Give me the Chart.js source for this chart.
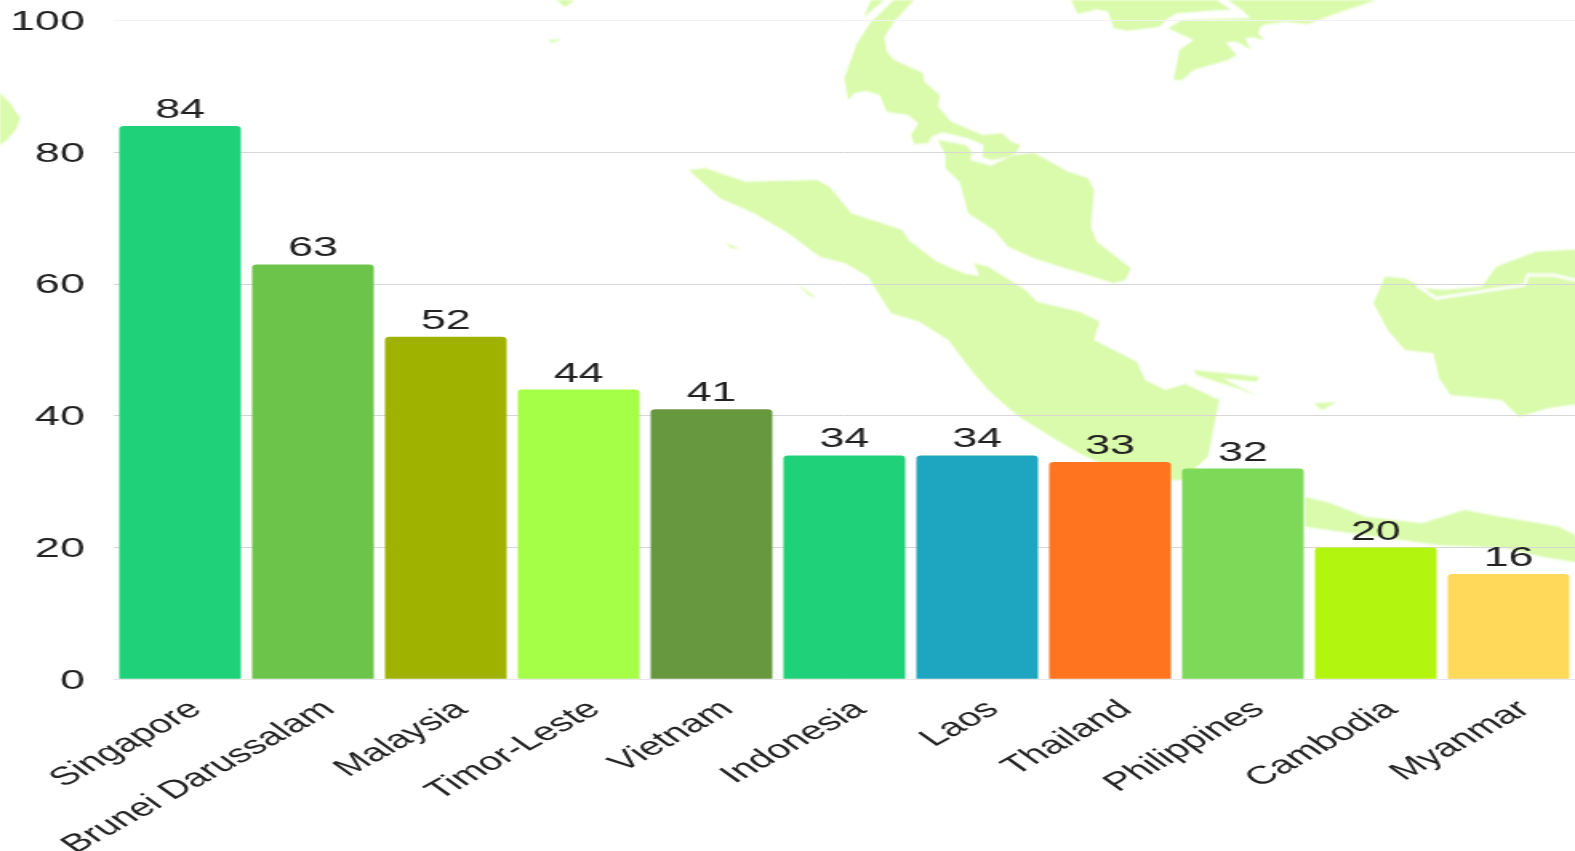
<!DOCTYPE html>
<html>
<head>
<meta charset="utf-8">
<title>ASEAN</title>
<script src="https://cdn.jsdelivr.net/npm/chart.js@4"></script>
<style>
  html, body { margin: 0; padding: 0; background: #fff; overflow: hidden; }
  #wrap { position: relative; width: 1575px; height: 851px; }
  #map { position: absolute; left: 0; top: 0; }
  /* the source picture is stretched sideways, so the canvas is too */
  #chart { position: absolute; left: 0; top: 0; width: 1575px !important; height: 851px !important; }
</style>
</head>
<body>
<div id="wrap">
  <svg id="map" width="1575" height="851" viewBox="0 0 1575 851">
    <defs><filter id="soft"><feGaussianBlur stdDeviation="1.1"/></filter></defs>
    <g fill="#d9fbab" filter="url(#soft)">
      <!-- upper half of the map -->
      <g transform="translate(680,0) scale(0.5708,0.3333)">
        <path d="M335,0 L358,0 L322,50 Z"/>
        <path d="M375,0 L410,0 L375,65 L358,110 L362,155 L375,180 L425,218 L428,245 L455,285 L452,320 L475,365 L530,405 L565,400 L580,425 L597,435 L590,455 L575,472 L545,480 L530,470 L532,435 L505,415 L460,397 L440,410 L435,430 L410,432 L405,405 L418,370 L400,345 L362,335 L350,285 L325,272 L305,280 L295,300 L288,235 L310,130 L335,65 Z"/>
        <path d="M452,420 L500,435 L512,455 L508,480 L545,497 L585,465 L620,458 L680,515 L715,535 L725,570 L720,680 L730,725 L790,805 L780,840 L760,850 L620,775 L575,740 L550,690 L505,640 L490,545 L465,505 L465,465 Z"/>
        <path d="M685,0 L940,0 L965,30 L945,30 L870,40 L855,55 L840,80 L785,92 L760,85 L750,35 L730,28 L697,42 Z"/>
        <path d="M960,0 L1220,0 L1150,40 L1100,72 L1060,65 L1020,75 L1012,100 L1025,120 L1003,112 L990,115 L1000,148 L975,125 L955,125 L975,165 L960,180 L900,210 L880,240 L865,240 L875,150 L900,120 L855,85 L880,60 L1000,55 L985,30 Z"/>
        <path d="M80,730 L105,745 L90,745 Z"/>
      </g>
      <!-- lower half of the map -->
      <g transform="translate(680,240) scale(0.5708,0.3333)">
        <path d="M15,-210 L45,-215 L115,-175 L240,-180 L262,-160 L300,-80 L390,-30 L400,0 L450,65 L500,102 L525,108 L515,70 L540,80 L605,150 L625,185 L700,215 L735,245 L725,300 L800,365 L815,420 L850,450 L885,432 L945,480 L935,560 L925,650 L880,720 L800,720 L700,640 L650,590 L590,525 L540,450 L510,390 L470,300 L420,245 L370,220 L355,180 L330,110 L290,70 L245,50 L190,-20 L130,-80 L70,-125 Z"/>
        <path d="M900,390 L1015,410 L1010,425 L950,415 L1015,470 L985,450 L905,405 Z"/>
        <path d="M1110,490 L1150,487 L1125,510 Z"/>
        <path d="M205,130 L240,175 L225,165 Z"/>
        <path d="M1095,770 L1140,790 L1200,830 L1300,850 L1375,810 L1420,825 L1490,845 L1540,860 L1568,885 L1580,970 L1510,950 L1450,925 L1327,915 L1095,860 Z"/>
        <path d="M1235,110 L1270,115 L1305,145 L1340,150 L1405,140 L1430,80 L1500,35 L1580,28 L1580,490 L1520,505 L1470,530 L1440,480 L1350,465 L1330,415 L1320,340 L1270,330 L1240,270 L1215,190 Z"/>
        <path d="M1290,135 L1325,175 L1400,155 L1480,135 L1485,105 L1530,105 L1580,125" fill="none" stroke="#fff" stroke-width="3" vector-effect="non-scaling-stroke"/>
      </g>
      <path d="M0,93 L10,103 L20,118 L17,128 L7,140 L0,145 Z"/>
      <path d="M556,0 L575,0 L565,7 Z"/>
      <path d="M548,40 L562,39 L552,43 Z"/>
    </g>
  </svg>
  <canvas id="chart" width="984" height="851"></canvas>
</div>
<script>
const categories = ['Singapore', 'Brunei Darussalam', 'Malaysia', 'Timor-Leste', 'Vietnam', 'Indonesia', 'Laos', 'Thailand', 'Philippines', 'Cambodia', 'Myanmar'];
const values     = [84, 63, 52, 44, 41, 34, 34, 33, 32, 20, 16];
const barColors  = ['#1fd27a', '#6cc44a', '#9fb200', '#a6ff47', '#67983f', '#1fd27a', '#1ea5bf', '#ff741e', '#7dd957', '#b2f50f', '#ffd95a'];
const yMax  = 100;
const yStep = 20;

const FAMILY   = '"Liberation Sans", Arial, sans-serif';
const NUM_FONT = { family: FAMILY, size: 28 };
const CAT_FONT = { family: FAMILY, size: 25.5 };
const INK      = '#222222';

// numbers above the bars
const valueLabels = {
  id: 'valueLabels',
  afterDatasetsDraw(chart) {
    const ctx = chart.ctx;
    const bars = chart.getDatasetMeta(0).data;
    ctx.save();
    ctx.font = NUM_FONT.size + 'px ' + NUM_FONT.family;
    ctx.fillStyle = INK;
    ctx.textAlign = 'center';
    ctx.textBaseline = 'alphabetic';
    bars.forEach((bar, i) => ctx.fillText(values[i], bar.x, bar.y - 8));
    ctx.restore();
  }
};

new Chart(document.getElementById('chart'), {
  type: 'bar',
  data: {
    labels: categories,
    datasets: [{
      data: values,
      backgroundColor: barColors,
      borderWidth: 0,
      borderRadius: { topLeft: 3, topRight: 3, bottomLeft: 0, bottomRight: 0 },
      borderSkipped: false,
      barPercentage: 0.916,
      categoryPercentage: 1
    }]
  },
  options: {
    responsive: false,
    animation: false,
    devicePixelRatio: 1,
    layout: { padding: { left: 0, right: 0, top: 20.7, bottom: 0 } },
    plugins: { legend: { display: false }, tooltip: { enabled: false } },
    scales: {
      x: {
        grid: { display: false },
        border: { display: false },
        ticks: {
          color: INK,
          font: CAT_FONT,
          autoSkip: false,
          minRotation: 41.3,
          maxRotation: 41.3,
          padding: 7,
          labelOffset: 10
        },
        afterFit(scale) {
          scale.height = 171.7;
          scale.paddingLeft = 0;
          scale.paddingRight = 0;
        }
      },
      y: {
        min: 0,
        max: yMax,
        ticks: { stepSize: yStep, color: INK, font: NUM_FONT, padding: 18, labelOffset: 1.5 },
        border: { display: false },
        grid: {
          drawTicks: false,
          color: c => c.tick.value === yMax ? '#f3f3f3' : c.tick.value === 0 ? '#e6e6e6' : '#d6d6d6',
          lineWidth: 1
        },
        afterFit(scale) {
          scale.width = 71;
          scale.paddingTop = 0;
          scale.paddingBottom = 0;
        }
      }
    }
  },
  plugins: [valueLabels]
});
</script>
</body>
</html>
